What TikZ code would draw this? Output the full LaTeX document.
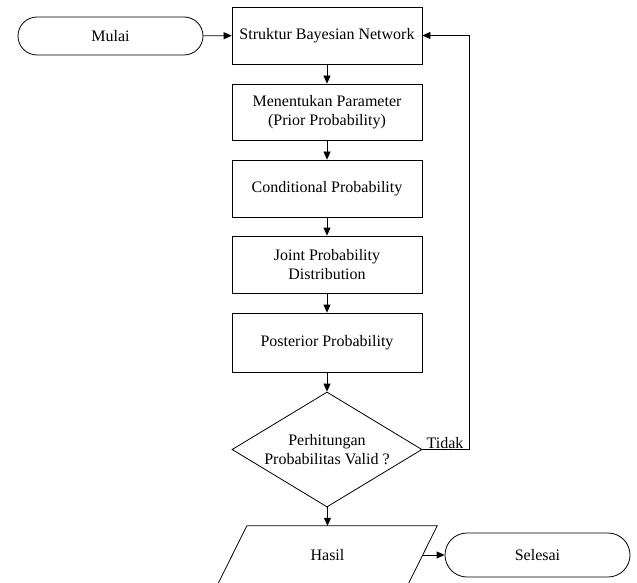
\documentclass[tikz,border=0pt]{standalone}
\usepackage{fontspec}
\setmainfont{Liberation Serif}
\usetikzlibrary{shapes.geometric,shapes.misc,arrows.meta,positioning}
\begin{document}
\begin{tikzpicture}[x=1pt,y=-1pt,
  every node/.style={font=\fontsize{16}{19.5}\selectfont, align=center},
  proc/.style={draw, line width=0.8pt, rectangle, minimum width=190pt, minimum height=57pt, inner sep=2pt},
  term/.style={draw, line width=0.8pt, rounded rectangle, minimum width=189pt, inner sep=2pt},
  dec/.style={draw, line width=0.8pt, diamond, aspect=1.6, minimum width=190pt, minimum height=115pt, inner sep=0pt},
  iotext/.style={rectangle, minimum width=190pt, minimum height=58pt, inner sep=0pt},
  shapeline/.style={line width=0.8pt},
  arr/.style={line width=0.8pt, -{Triangle[length=8pt,width=7pt]}}
]
\useasboundingbox (0,0) rectangle (637,583);
\node[term, minimum height=38pt] (mulai) at (110.5,36) {Mulai};
\node[proc] (s1) at (327,35.5) {Struktur Bayesian Network};
\node[proc, minimum height=56pt] (s2) at (327,112) {Menentukan Parameter\\(Prior Probability)};
\node[proc] (s3) at (327,188.5) {Conditional Probability};
\node[proc] (s4) at (327,264.5) {Joint Probability\\Distribution};
\node[proc, minimum height=59pt] (s5) at (327,342.5) {Posterior Probability};
\node[dec] (d) at (327,449.5) {Perhitungan\\Probabilitas Valid ?};
\node[iotext] (hasil) at (327.5,555) {Hasil};
\draw[shapeline] ([xshift=14.5pt]hasil.north west) -- ([xshift=14.5pt]hasil.north east)
  -- ([xshift=-14.5pt]hasil.south east) -- ([xshift=-14.5pt]hasil.south west) -- cycle;
\node[term, minimum height=44pt] (selesai) at (537.5,555) {Selesai};
\coordinate (r) at (469,449.5);
\draw[arr] (mulai) -- (s1);
\draw[arr] (s1) -- (s2);
\draw[arr] (s2) -- (s3);
\draw[arr] (s3) -- (s4);
\draw[arr] (s4) -- (s5);
\draw[arr] (s5) -- (d);
\draw[arr] (d) -- (hasil.north);
\draw[arr] (d.east) -- (r) |- (s1.east);
\node[anchor=south west, inner sep=1pt] (tidak) at ([xshift=3pt]d.east) {Tidak};
\draw[arr] (hasil.east) -- (selesai.west);
\end{tikzpicture}
\end{document}
